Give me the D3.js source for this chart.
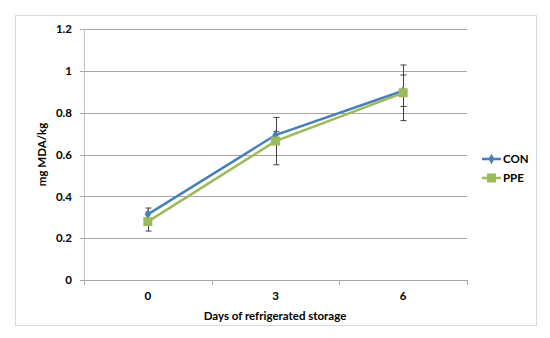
<!DOCTYPE html>
<html>
<head>
<meta charset="utf-8">
<script src="https://cdn.jsdelivr.net/npm/d3@7"></script>
<style>
  body { margin: 0; background: #fff; }
  svg { font-family: Lato, "Open Sans", sans-serif; font-weight: bold; }
</style>
</head>
<body>
<div id="chart"></div>
<script>
// Data
const days = ['0', '3', '6']
const seriesNames = ['CON', 'PPE']
const conValues = [0.314, 0.693, 0.905]
const conErrors = [0.03, 0.016, 0.075]
const ppeValues = [0.279, 0.664, 0.895]
const ppeErrors = [0.045, 0.113, 0.133]
const yTicks = [0, 0.2, 0.4, 0.6, 0.8, 1, 1.2]

const colors = { CON: '#4a7ebb', PPE: '#9bbb59' }

const series = [
  { name: 'CON', values: conValues, errors: conErrors },
  { name: 'PPE', values: ppeValues, errors: ppeErrors },
]

// Dimensions
const width = 550
const height = 338
const plot = { left: 84, right: 467, top: 29, bottom: 280 }

const svg = d3.select('#chart')
  .append('svg')
  .attr('width', width)
  .attr('height', height)

// chart border
svg.append('rect')
  .attr('x', 15.5)
  .attr('y', 15.5)
  .attr('width', 521)
  .attr('height', 310)
  .attr('fill', 'none')
  .attr('stroke', '#d9d9d9')
  .attr('stroke-width', 1)

// Scales
const xScale = d3.scaleBand()
  .domain(days)
  .range([plot.left, plot.right])

const yScale = d3.scaleLinear()
  .domain([0, 1.2])
  .range([plot.bottom, plot.top])

// gridlines (extend a little left like tick marks)
svg.append('g')
  .selectAll('line')
  .data(yTicks)
  .join('line')
  .attr('x1', plot.left - 4)
  .attr('x2', plot.right)
  .attr('y1', d => Math.round(yScale(d)) + 0.5)
  .attr('y2', d => Math.round(yScale(d)) + 0.5)
  .attr('stroke', '#a6a6a6')
  .attr('stroke-width', 1)

// y axis line
svg.append('line')
  .attr('x1', plot.left + 0.5)
  .attr('x2', plot.left + 0.5)
  .attr('y1', plot.top)
  .attr('y2', plot.bottom)
  .attr('stroke', '#bfbfbf')

// y labels
const yAxis = d3.axisLeft(yScale)
  .tickValues(yTicks)
  .tickSize(0)
  .tickPadding(12)
  .tickFormat(d => d3.format('')(d))
const yAxisGroup = svg.append('g')
  .attr('transform', `translate(${plot.left},0)`)
  .call(yAxis)
yAxisGroup.select('.domain').remove()
yAxisGroup.selectAll('text')
  .attr('font-size', 11.5)
  .attr('font-family', 'Lato, sans-serif')
  .attr('font-weight', 'bold')
  .attr('fill', '#000')

// x axis ticks at band boundaries
const boundaries = days.map(d => xScale(d)).concat([plot.right])
svg.append('g')
  .selectAll('line')
  .data(boundaries)
  .join('line')
  .attr('x1', d => Math.round(d) + 0.5)
  .attr('x2', d => Math.round(d) + 0.5)
  .attr('y1', plot.bottom)
  .attr('y2', plot.bottom + 5)
  .attr('stroke', '#a6a6a6')

// x labels
svg.append('g')
  .selectAll('text')
  .data(days)
  .join('text')
  .attr('x', d => xScale(d) + xScale.bandwidth() / 2)
  .attr('y', 300)
  .attr('text-anchor', 'middle')
  .attr('font-size', 11.5)
  .text(d => d)

// axis titles
svg.append('text')
  .attr('x', 275)
  .attr('y', 320)
  .attr('text-anchor', 'middle')
  .attr('font-size', 11.5)
  .text('Days of refrigerated storage')

svg.append('text')
  .attr('transform', `translate(46, ${(plot.top + plot.bottom) / 2}) rotate(-90)`)
  .attr('text-anchor', 'middle')
  .attr('font-size', 11.5)
  .text('mg MDA/kg')

const xCenter = d => xScale(d) + xScale.bandwidth() / 2

// error bars
series.forEach(s => {
  const g = svg.append('g')
  days.forEach((d, i) => {
    const x = Math.round(xCenter(d)) + 0.5
    const top = yScale(s.values[i] + s.errors[i])
    const bot = yScale(s.values[i] - s.errors[i])
    g.append('line')
      .attr('x1', x).attr('x2', x)
      .attr('y1', top).attr('y2', bot)
      .attr('stroke', '#404040').attr('stroke-width', 1)
    ;[top, bot].forEach(y => {
      g.append('line')
        .attr('x1', x - 3).attr('x2', x + 3)
        .attr('y1', y).attr('y2', y)
        .attr('stroke', '#404040').attr('stroke-width', 1)
    })
  })
})

// lines
const lineGenerator = d3.line()
  .x((d, i) => xCenter(days[i]))
  .y(d => yScale(d))

series.forEach(s => {
  svg.append('path')
    .datum(s.values)
    .attr('d', lineGenerator)
    .attr('fill', 'none')
    .attr('stroke', colors[s.name])
    .attr('stroke-width', 2.5)
})

// markers
const diamond = d3.symbol().type(d3.symbolDiamond).size(32)
function drawMarker(g, name, x, y) {
  if (name === 'CON') {
    g.append('path')
      .attr('d', diamond())
      .attr('transform', `translate(${x},${y})`)
      .attr('fill', colors.CON)
  } else {
    g.append('rect')
      .attr('x', x - 4.5).attr('y', y - 4.5)
      .attr('width', 9).attr('height', 9)
      .attr('fill', colors.PPE)
  }
}
series.forEach(s => {
  const g = svg.append('g')
  s.values.forEach((v, i) => drawMarker(g, s.name, xCenter(days[i]), yScale(v)))
})

// legend
const legend = svg.append('g')
seriesNames.forEach((name, i) => {
  const y = 159 + i * 19
  legend.append('line')
    .attr('x1', 482).attr('x2', 501)
    .attr('y1', y).attr('y2', y)
    .attr('stroke', colors[name])
    .attr('stroke-width', 2.5)
  drawMarker(legend, name, 491.5, y)
  legend.append('text')
    .attr('x', 503)
    .attr('y', y + 4)
    .attr('font-size', 11.5)
    .text(name)
})
</script>
</body>
</html>
